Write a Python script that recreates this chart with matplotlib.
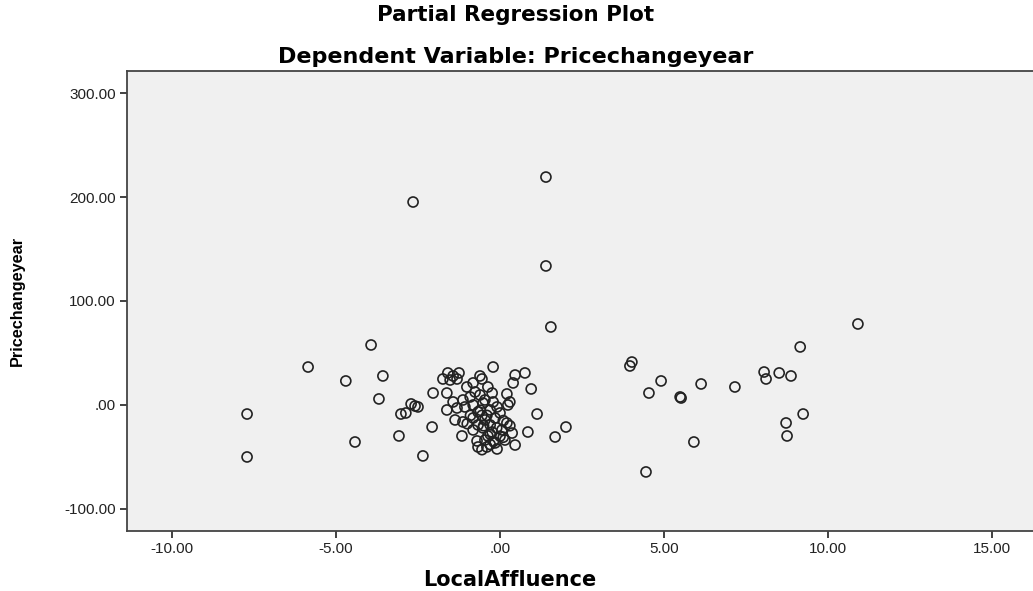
import matplotlib
matplotlib.use("Agg")
import matplotlib.pyplot as plt

# Data (LocalAffluence residual, Pricechangeyear residual)
local_affluence = [
    1.40, -2.65, 1.40, 1.55, 10.91, -3.93, 9.15, -5.85, -3.57, -4.70,
    4.02, 3.96, 4.91, 6.13, 7.16, 8.05, 8.11, 8.51, 8.87, 4.54,
    5.49, 5.52, -3.69, -7.71, -7.71, 9.24, 8.72, 8.75, 5.91, 4.45,
    -4.42, -2.35, -3.08, -3.02, -2.87, -2.71, -2.59, -2.50, -2.07, -2.04,
    -1.62, 1.68, 2.01, 1.13, 0.95, -0.21, 0.46, 0.76, 0.40, 0.30,
    0.21, 0.85, -1.16,
    -1.74, -1.59, -1.25, -1.43, -1.31, -1.52, -0.61, -0.55, -1.01, -0.82, -0.37,
    -1.43, -1.13, -0.91, -0.61, -0.24, -0.21, -0.76, -0.46,
    -1.62, -1.31, -1.07, -0.82, -0.52, -0.09, 0.24, -0.67, -0.30, 0.00,
    -1.37, -1.13, -0.82, -0.46, -0.15, 0.21, -0.30, -0.67,
    -0.82, -0.52, -0.24, 0.06, 0.37, -0.37,
    -0.70, -0.46, -0.15, 0.15, 0.46, -0.40, -0.09, -0.67,
    0.30, -0.55, 0.10,
    -0.50, -0.30, -0.20, 0.00, -0.40, -0.60, -0.90, -1.00, 0.10, -0.10,
    -0.30, -0.55,
]
pricechangeyear = [
    219.2, 195.2, 133.7, 75.0, 77.9, 57.7, 55.8, 36.5, 27.9, 23.1,
    41.3, 37.5, 23.1, 20.2, 17.3, 31.7, 25.0, 30.8, 27.9, 11.5,
    7.7, 6.7, 5.8, -8.7, -50.0, -8.7, -17.3, -29.8, -35.6, -64.4,
    -35.6, -49.0, -29.8, -8.7, -7.7, 1.0, -1.0, -1.9, -21.2, 11.5,
    11.5, -30.8, -21.2, -8.7, 15.4, 36.5, 28.8, 30.8, 21.2, 2.9,
    10.6, -26.0, -29.8,
    25.0, 30.8, 30.8, 27.9, 25.0, 24.0, 27.9, 25.0, 17.3, 21.2, 17.3,
    2.9, 4.8, 7.7, 9.6, 11.5, 2.9, 12.5, 4.8,
    -4.8, -2.9, -1.9, 0.0, 1.9, -1.9, 0.0, -6.7, -4.8, -7.7,
    -14.4, -16.3, -12.5, -14.4, -12.5, -17.3, -19.2, -19.2,
    -24.0, -22.0, -26.0, -24.0, -27.0, -29.8,
    -34.6, -33.7, -36.5, -33.7, -38.5, -40.4, -42.3, -40.4,
    -20.0, -10.0, -31.0,
    -20.0, -28.0, -35.0, -30.0, -10.0, -5.0, -10.0, -18.0, -15.0, -22.0,
    -38.0, -43.0,
]

x_ticks = [-10, -5, 0, 5, 10, 15]
x_tick_labels = ["-10.00", "-5.00", ".00", "5.00", "10.00", "15.00"]
y_ticks = [-100, 0, 100, 200, 300]
y_tick_labels = ["-100.00", ".00", "100.00", "200.00", "300.00"]

W, H = 1033, 591
fig = plt.figure(figsize=(W / 100, H / 100), dpi=100, facecolor="white")
plt.rcParams["font.family"] = ["Liberation Sans", "DejaVu Sans"]

left, right, top, bottom = 127, 1040, 71, 531
ax = fig.add_axes([left / W, 1 - bottom / H, (right - left) / W, (bottom - top) / H])
ax.set_facecolor("#F0F0F0")

ax.scatter(local_affluence, pricechangeyear, s=52, facecolors="none",
           edgecolors="#222222", linewidths=1.2, zorder=3)

ax.set_xlim(-11.37, 16.46)
ax.set_ylim(-121.2, 321.2)
ax.set_xticks(x_ticks)
ax.set_xticklabels(x_tick_labels)
ax.set_yticks(y_ticks)
ax.set_yticklabels(y_tick_labels)
ax.tick_params(axis="both", direction="out", length=5, width=1.3, color="#333333",
               labelsize=11, labelcolor="#222222", pad=3)

for s in ["left", "bottom", "top", "right"]:
    ax.spines[s].set_color("#444444")
    ax.spines[s].set_linewidth(1.3)

bold_wide = ["DejaVu Sans"]
ax.set_xlabel("LocalAffluence", fontsize=15, fontweight="bold", labelpad=10,
              family=bold_wide)
ax.xaxis.label.set_x((510 - left) / (right - left))
ax.set_ylabel("Pricechangeyear", fontsize=11.7, fontweight="bold", labelpad=28)

cx = 516 / W
fig.text(cx, 1 - 15 / H, "Partial Regression Plot", ha="center", va="center",
         fontsize=15.5, fontweight="bold", family=bold_wide)
fig.text(cx, 1 - 57 / H, "Dependent Variable: Pricechangeyear", ha="center",
         va="center", fontsize=16, fontweight="bold", family=bold_wide)

fig.savefig("out.png", dpi=100, facecolor="white")
